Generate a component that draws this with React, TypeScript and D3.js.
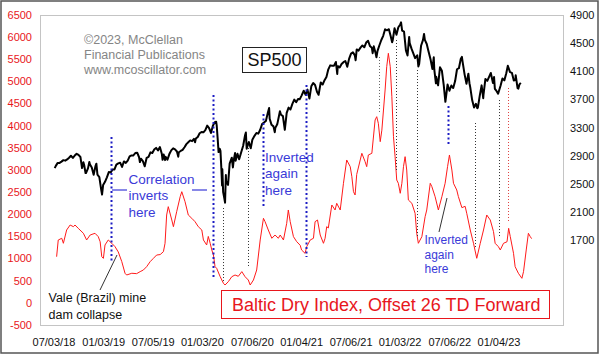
import React from "react";
import * as d3 from "d3";

const leftTicks = [-500, 0, 500, 1000, 1500, 2000, 2500, 3000, 3500, 4000, 4500, 5000, 5500, 6000, 6500];
const rightTicks = [1700, 2100, 2500, 2900, 3300, 3700, 4100, 4500, 4900];
const xTickDates = ["2018-07-03", "2019-01-03", "2019-07-05", "2020-01-03", "2020-07-06", "2021-01-04", "2021-07-06", "2022-01-03", "2022-07-06", "2023-01-04"];
const xTickLabels = ["07/03/18", "01/03/19", "07/05/19", "01/03/20", "07/06/20", "01/04/21", "07/06/21", "01/03/22", "07/06/22", "01/04/23"];

const spx: [string, number][] = [
  ["2018-07-02", 2726], ["2018-07-06", 2759], ["2018-07-13", 2801], ["2018-07-20", 2801], ["2018-07-27", 2819],
  ["2018-08-03", 2840], ["2018-08-10", 2833], ["2018-08-17", 2850], ["2018-08-24", 2874], ["2018-08-31", 2902],
  ["2018-09-07", 2872], ["2018-09-14", 2905], ["2018-09-21", 2930], ["2018-09-28", 2914], ["2018-10-05", 2885],
  ["2018-10-11", 2728], ["2018-10-16", 2809], ["2018-10-19", 2768], ["2018-10-24", 2656], ["2018-10-26", 2658],
  ["2018-11-02", 2723], ["2018-11-07", 2814], ["2018-11-09", 2781], ["2018-11-16", 2736], ["2018-11-23", 2633],
  ["2018-11-30", 2760], ["2018-12-03", 2790], ["2018-12-07", 2633], ["2018-12-14", 2600], ["2018-12-21", 2417],
  ["2018-12-24", 2351], ["2018-12-28", 2486], ["2019-01-04", 2532], ["2019-01-11", 2596], ["2019-01-18", 2671],
  ["2019-01-25", 2665], ["2019-02-01", 2707], ["2019-02-08", 2708], ["2019-02-15", 2776], ["2019-02-22", 2793],
  ["2019-03-01", 2804], ["2019-03-08", 2743], ["2019-03-15", 2822], ["2019-03-22", 2801], ["2019-03-29", 2834],
  ["2019-04-05", 2893], ["2019-04-12", 2907], ["2019-04-18", 2905], ["2019-04-26", 2940], ["2019-05-03", 2946],
  ["2019-05-10", 2881], ["2019-05-13", 2812], ["2019-05-17", 2860], ["2019-05-24", 2826], ["2019-05-31", 2752],
  ["2019-06-07", 2873], ["2019-06-14", 2887], ["2019-06-21", 2950], ["2019-06-28", 2942], ["2019-07-05", 2990],
  ["2019-07-12", 3014], ["2019-07-19", 2977], ["2019-07-26", 3026], ["2019-08-02", 2932], ["2019-08-05", 2844],
  ["2019-08-09", 2919], ["2019-08-14", 2840], ["2019-08-16", 2889], ["2019-08-23", 2847], ["2019-08-30", 2926],
  ["2019-09-06", 2979], ["2019-09-13", 3007], ["2019-09-20", 2992], ["2019-09-27", 2962], ["2019-10-02", 2888],
  ["2019-10-04", 2952], ["2019-10-11", 2970], ["2019-10-18", 2986], ["2019-10-25", 3023], ["2019-11-01", 3067],
  ["2019-11-08", 3093], ["2019-11-15", 3120], ["2019-11-22", 3110], ["2019-11-29", 3141], ["2019-12-03", 3093],
  ["2019-12-06", 3146], ["2019-12-13", 3169], ["2019-12-20", 3221], ["2019-12-27", 3240], ["2020-01-03", 3235],
  ["2020-01-10", 3265], ["2020-01-17", 3330], ["2020-01-24", 3295], ["2020-01-31", 3226], ["2020-02-07", 3328],
  ["2020-02-14", 3380], ["2020-02-19", 3386], ["2020-02-21", 3338], ["2020-02-25", 3128], ["2020-02-28", 2954],
  ["2020-03-03", 3003], ["2020-03-06", 2972], ["2020-03-09", 2747], ["2020-03-12", 2481], ["2020-03-13", 2711],
  ["2020-03-16", 2386], ["2020-03-20", 2305], ["2020-03-23", 2237], ["2020-03-26", 2630], ["2020-03-27", 2541],
  ["2020-04-03", 2489], ["2020-04-09", 2790], ["2020-04-17", 2875], ["2020-04-21", 2737], ["2020-04-24", 2837],
  ["2020-04-29", 2940], ["2020-05-01", 2831], ["2020-05-08", 2930], ["2020-05-14", 2852], ["2020-05-15", 2864],
  ["2020-05-22", 2955], ["2020-05-29", 3044], ["2020-06-05", 3194], ["2020-06-08", 3232], ["2020-06-11", 3002],
  ["2020-06-19", 3098], ["2020-06-26", 3009], ["2020-07-02", 3130], ["2020-07-10", 3185], ["2020-07-17", 3225],
  ["2020-07-24", 3216], ["2020-07-31", 3271], ["2020-08-07", 3351], ["2020-08-14", 3373], ["2020-08-21", 3397],
  ["2020-08-28", 3508], ["2020-09-02", 3580], ["2020-09-04", 3427], ["2020-09-11", 3341], ["2020-09-18", 3319],
  ["2020-09-23", 3237], ["2020-09-25", 3298], ["2020-10-02", 3348], ["2020-10-09", 3477], ["2020-10-12", 3535],
  ["2020-10-16", 3484], ["2020-10-23", 3465], ["2020-10-30", 3270], ["2020-11-06", 3510], ["2020-11-13", 3585],
  ["2020-11-20", 3558], ["2020-11-27", 3638], ["2020-12-04", 3699], ["2020-12-11", 3663], ["2020-12-18", 3709],
  ["2020-12-24", 3703], ["2020-12-31", 3756], ["2021-01-08", 3825], ["2021-01-15", 3768], ["2021-01-22", 3841],
  ["2021-01-29", 3714], ["2021-02-05", 3887], ["2021-02-12", 3934], ["2021-02-19", 3907], ["2021-02-26", 3811],
  ["2021-03-04", 3768], ["2021-03-12", 3943], ["2021-03-19", 3913], ["2021-03-26", 3975], ["2021-04-02", 4020],
  ["2021-04-09", 4129], ["2021-04-16", 4185], ["2021-04-23", 4180], ["2021-04-30", 4181], ["2021-05-07", 4233],
  ["2021-05-12", 4063], ["2021-05-14", 4174], ["2021-05-21", 4156], ["2021-05-28", 4204], ["2021-06-04", 4230],
  ["2021-06-11", 4247], ["2021-06-18", 4166], ["2021-06-25", 4281], ["2021-07-02", 4352], ["2021-07-09", 4370],
  ["2021-07-16", 4327], ["2021-07-19", 4258], ["2021-07-23", 4412], ["2021-07-30", 4395], ["2021-08-06", 4437],
  ["2021-08-13", 4468], ["2021-08-20", 4442], ["2021-08-27", 4509], ["2021-09-03", 4535], ["2021-09-10", 4459],
  ["2021-09-17", 4433], ["2021-09-20", 4358], ["2021-09-24", 4455], ["2021-10-01", 4357], ["2021-10-04", 4300],
  ["2021-10-08", 4391], ["2021-10-15", 4471], ["2021-10-22", 4545], ["2021-10-29", 4605], ["2021-11-05", 4697],
  ["2021-11-12", 4683], ["2021-11-19", 4698], ["2021-11-26", 4595], ["2021-12-01", 4513], ["2021-12-03", 4538],
  ["2021-12-10", 4712], ["2021-12-17", 4620], ["2021-12-24", 4726], ["2021-12-31", 4766], ["2022-01-03", 4796],
  ["2022-01-07", 4677], ["2022-01-14", 4663], ["2022-01-21", 4398], ["2022-01-27", 4326], ["2022-02-02", 4589],
  ["2022-02-04", 4500], ["2022-02-11", 4419], ["2022-02-18", 4349], ["2022-02-24", 4288], ["2022-03-04", 4329],
  ["2022-03-08", 4170], ["2022-03-11", 4204], ["2022-03-18", 4463], ["2022-03-25", 4543], ["2022-03-29", 4631],
  ["2022-04-01", 4546], ["2022-04-08", 4488], ["2022-04-14", 4393], ["2022-04-22", 4272], ["2022-04-29", 4132],
  ["2022-05-04", 4300], ["2022-05-06", 4123], ["2022-05-12", 3930], ["2022-05-13", 4024], ["2022-05-20", 3901],
  ["2022-05-27", 4158], ["2022-06-03", 4109], ["2022-06-10", 3901], ["2022-06-16", 3667], ["2022-06-24", 3912],
  ["2022-07-01", 3825], ["2022-07-08", 3899], ["2022-07-15", 3863], ["2022-07-22", 3962], ["2022-07-29", 4130],
  ["2022-08-05", 4145], ["2022-08-12", 4280], ["2022-08-16", 4305], ["2022-08-19", 4228], ["2022-08-26", 4058],
  ["2022-09-02", 3924], ["2022-09-09", 4067], ["2022-09-13", 3932], ["2022-09-16", 3873], ["2022-09-23", 3693],
  ["2022-09-30", 3586], ["2022-10-07", 3640], ["2022-10-12", 3577], ["2022-10-14", 3583], ["2022-10-21", 3752],
  ["2022-10-28", 3901], ["2022-11-03", 3720], ["2022-11-04", 3771], ["2022-11-11", 3993], ["2022-11-18", 3965],
  ["2022-11-25", 4026], ["2022-12-01", 4077], ["2022-12-09", 3934], ["2022-12-13", 4019], ["2022-12-16", 3852],
  ["2022-12-22", 3822], ["2022-12-28", 3783], ["2023-01-06", 3895], ["2023-01-13", 3999], ["2023-01-20", 3972],
  ["2023-01-27", 4070], ["2023-02-02", 4180], ["2023-02-10", 4090], ["2023-02-17", 4079], ["2023-02-24", 3970],
  ["2023-03-02", 3981], ["2023-03-03", 4045], ["2023-03-10", 3861], ["2023-03-13", 3855], ["2023-03-17", 3916],
  ["2023-03-22", 3937],
];

// Baltic Dry Index, dates already shifted 26 trading days forward
const bdi: [string, number][] = [
  ["2018-07-09", 1042], ["2018-07-15", 1419], ["2018-07-28", 1458], ["2018-08-03", 1345], ["2018-08-15", 1645],
  ["2018-08-28", 1758], ["2018-09-09", 1720], ["2018-09-15", 1758], ["2018-09-27", 1683], ["2018-10-16", 1571],
  ["2018-10-28", 1420], ["2018-11-10", 1532], ["2018-11-28", 1571], ["2018-12-10", 1495], ["2018-12-17", 1380],
  ["2018-12-23", 1042], ["2018-12-29", 1005], ["2019-01-04", 1307], ["2019-01-16", 1420], ["2019-01-29", 1345],
  ["2019-02-10", 1269], ["2019-02-22", 1150], ["2019-03-07", 932], ["2019-03-19", 668], ["2019-03-25", 629],
  ["2019-04-13", 668], ["2019-05-01", 660], ["2019-05-14", 705], ["2019-05-26", 742], ["2019-06-07", 817],
  ["2019-06-20", 930], ["2019-07-02", 1006], ["2019-07-14", 1080], ["2019-07-27", 1090], ["2019-08-08", 1156],
  ["2019-08-14", 1345], ["2019-08-20", 1984], ["2019-08-26", 2172], ["2019-09-08", 1871], ["2019-09-14", 1720],
  ["2019-09-26", 2058], ["2019-10-09", 2397], ["2019-10-15", 2510], ["2019-10-27", 2284], ["2019-11-08", 1984],
  ["2019-11-21", 1909], ["2019-12-03", 1833], ["2019-12-15", 1720], ["2019-12-28", 1645], ["2020-01-03", 1420],
  ["2020-01-15", 1307], ["2020-01-21", 1500], ["2020-01-28", 1345], ["2020-02-03", 1194], ["2020-02-09", 1081],
  ["2020-02-15", 817], ["2020-02-21", 780], ["2020-03-05", 591], ["2020-03-17", 442], ["2020-03-23", 403],
  ["2020-04-04", 478], ["2020-04-17", 591], ["2020-04-29", 629], ["2020-05-11", 600], ["2020-05-24", 705],
  ["2020-06-05", 591], ["2020-06-17", 516], ["2020-06-24", 403], ["2020-07-06", 516], ["2020-07-18", 742],
  ["2020-07-31", 1420], ["2020-08-12", 1909], ["2020-08-18", 1833], ["2020-08-30", 1645], ["2020-09-12", 1458],
  ["2020-09-24", 1532], ["2020-10-06", 1458], ["2020-10-13", 1532], ["2020-10-25", 1420], ["2020-11-06", 1796],
  ["2020-11-12", 2097], ["2020-11-19", 1833], ["2020-12-01", 1495], ["2020-12-13", 1382], ["2020-12-26", 1300],
  ["2020-12-31", 1194], ["2021-01-13", 1119], ["2021-01-19", 1269], ["2021-02-01", 1420], ["2021-02-13", 1458],
  ["2021-02-19", 1833], ["2021-02-28", 1871], ["2021-03-10", 1532], ["2021-03-22", 1345], ["2021-03-28", 1458],
  ["2021-04-03", 1720], ["2021-04-09", 1690], ["2021-04-22", 2210], ["2021-05-04", 2097], ["2021-05-10", 2248],
  ["2021-05-23", 2097], ["2021-06-04", 2700], ["2021-06-16", 3226], ["2021-06-29", 3075], ["2021-07-05", 2849],
  ["2021-07-11", 2510], ["2021-07-17", 2436], ["2021-07-23", 2900], ["2021-08-05", 3226], ["2021-08-11", 3377],
  ["2021-08-23", 3188], ["2021-08-29", 3075], ["2021-09-04", 3339], ["2021-09-17", 3377], ["2021-09-29", 4129],
  ["2021-10-05", 4204], ["2021-10-11", 4054], ["2021-10-18", 3640], ["2021-10-24", 3900], ["2021-11-05", 4807],
  ["2021-11-11", 5333], ["2021-11-17", 5635], ["2021-11-24", 5333], ["2021-11-30", 4655], ["2021-12-06", 3752],
  ["2021-12-12", 3301], ["2021-12-18", 2774], ["2021-12-24", 2700], ["2021-12-31", 2474], ["2022-01-06", 2700],
  ["2022-01-12", 3075], ["2022-01-18", 3301], ["2022-01-24", 2999], ["2022-01-30", 2323], ["2022-02-12", 2248],
  ["2022-02-24", 2022], ["2022-03-02", 1571], ["2022-03-08", 1345], ["2022-03-21", 1495], ["2022-04-02", 1946],
  ["2022-04-08", 2097], ["2022-04-21", 2700], ["2022-04-27", 2624], ["2022-05-09", 2397], ["2022-05-21", 2097],
  ["2022-06-03", 2397], ["2022-06-15", 2700], ["2022-06-24", 3075], ["2022-07-01", 3339], ["2022-07-10", 2999],
  ["2022-07-16", 2700], ["2022-07-28", 2549], ["2022-08-03", 2400], ["2022-08-16", 2150], ["2022-08-28", 2180],
  ["2022-09-03", 2022], ["2022-09-16", 1645], ["2022-09-28", 1345], ["2022-10-10", 1006], ["2022-10-23", 1345],
  ["2022-11-04", 1645], ["2022-11-16", 1984], ["2022-11-29", 1871], ["2022-12-11", 1608], ["2022-12-17", 1345],
  ["2022-12-29", 1269], ["2023-01-05", 1194], ["2023-01-17", 1345], ["2023-01-30", 1380], ["2023-02-05", 1683],
  ["2023-02-11", 1495], ["2023-02-23", 1119], ["2023-03-01", 817], ["2023-03-13", 668], ["2023-03-26", 554],
  ["2023-04-01", 705], ["2023-04-11", 1194], ["2023-04-19", 1571], ["2023-04-26", 1495], ["2023-05-01", 1450],
];

// vertical marker lines: date, top (SP500 scale), bottom (BDI scale), style
const markers: { date: string; spTop: number; bdiBottom: number; kind: string }[] = [
  { date: "2019-01-26", spTop: 3168, bdiBottom: 923, kind: "blue" },
  { date: "2020-02-07", spTop: 3764, bdiBottom: 584, kind: "blue" },
  { date: "2020-08-10", spTop: 3495, bdiBottom: 2142, kind: "blue" },
  { date: "2021-01-16", spTop: 3906, bdiBottom: 1036, kind: "blue" },
  { date: "2022-06-26", spTop: 3608, bdiBottom: 3542, kind: "blue" },
  { date: "2020-03-15", spTop: 2160, bdiBottom: 449, kind: "black" },
  { date: "2020-06-16", spTop: 3055, bdiBottom: 787, kind: "black" },
  { date: "2021-10-13", spTop: 4304, bdiBottom: 4287, kind: "grey" },
  { date: "2021-12-15", spTop: 4545, bdiBottom: 3000, kind: "black" },
  { date: "2022-03-03", spTop: 4119, bdiBottom: 1487, kind: "black" },
  { date: "2022-10-04", spTop: 3367, bdiBottom: 1261, kind: "black" },
  { date: "2022-12-31", spTop: 3693, bdiBottom: 1465, kind: "black" },
  { date: "2023-02-01", spTop: 3864, bdiBottom: 1803, kind: "red" },
];

const FONT = "Arial, 'Liberation Sans', sans-serif";
const RED = "#e8161c";
const BLUE = "#3a3ad8";

export default function App() {
  const parse = d3.utcParse("%Y-%m-%d");
  const x = d3.scaleUtc().domain([parse("2018-07-03")!, parse("2023-01-04")!]).range([55, 500]);
  const yL = d3.scaleLinear().domain([-500, 6500]).range([325, 15]);
  const yR = d3.scaleLinear().domain([500, 4900]).range([325, 15]);

  const spLine = d3.line<[string, number]>().x((d) => x(parse(d[0])!)).y((d) => yR(d[1]));
  const bdiLine = d3.line<[string, number]>().x((d) => x(parse(d[0])!)).y((d) => yL(d[1]));

  const markerStyle = (k: string) => {
    if (k === "blue") return { stroke: "#1c1cc4", width: 2, dash: "2,2.5" };
    if (k === "red") return { stroke: "#e04040", width: 1, dash: "1,2" };
    if (k === "grey") return { stroke: "#666", width: 1, dash: "1,2" };
    return { stroke: "#333", width: 1, dash: "1,2" };
  };

  return (
    <svg width={600} height={355} style={{ position: "absolute", left: 0, top: 0, display: "block" }} fontFamily={FONT}>
      <rect x={0} y={0} width={600} height={355} fill="#fff" />
      <rect x={1} y={1} width={597} height={352} fill="none" stroke="#555" strokeWidth={1.5} />
      <rect x={40.5} y={15.5} width={523} height={310} fill="#fff" stroke="#c4c4c4" strokeWidth={1} />

      {leftTicks.map((t) => (
        <text key={"l" + t} x={32} y={yL(t)} dy="0.35em" textAnchor="end" fontSize={11} fill={RED}>{t}</text>
      ))}
      {rightTicks.map((t) => (
        <text key={"r" + t} x={570} y={yR(t)} dy="0.35em" textAnchor="start" fontSize={11} fill="#111">{t}</text>
      ))}
      {xTickDates.map((d, i) => (
        <text key={d} x={x(parse(d)!) - 1} y={342} dy="0.35em" textAnchor="middle" fontSize={11} fill="#111">{xTickLabels[i]}</text>
      ))}

      <g fill="#858585" fontSize={12.5}>
        <text x={84} y={40} dy="0.35em">©2023, McClellan</text>
        <text x={84} y={55} dy="0.35em">Financial Publications</text>
        <text x={84} y={70} dy="0.35em">www.mcoscillator.com</text>
      </g>

      <rect x={242.5} y={47.5} width={64} height={25} fill="#fff" stroke="#222" strokeWidth={1} />
      <text x={274.5} y={60} dy="0.35em" textAnchor="middle" fontSize={18} fill="#111">SP500</text>

      <path d={bdiLine(bdi) ?? ""} fill="none" stroke="#ff1a1a" strokeWidth={1} />
      <path d={spLine(spx) ?? ""} fill="none" stroke="#000" strokeWidth={2} strokeLinejoin="round" />

      {markers.map((m) => {
        const s = markerStyle(m.kind);
        const xx = Math.round(x(parse(m.date)!)) + 0.5;
        return (
          <line key={m.date} x1={xx} x2={xx} y1={yR(m.spTop)} y2={yL(m.bdiBottom)} stroke={s.stroke} strokeWidth={s.width} strokeDasharray={s.dash} />
        );
      })}

      <line x1={112} x2={127} y1={190} y2={190} stroke={BLUE} strokeWidth={1.2} />
      <line x1={192} x2={207} y1={190} y2={190} stroke={BLUE} strokeWidth={1.2} />
      <g fill={BLUE} fontSize={13.5}>
        <text x={128.5} y={179} dy="0.35em">Correlation</text>
        <text x={128.5} y={195.5} dy="0.35em">inverts</text>
        <text x={128.5} y={212} dy="0.35em">here</text>
        <text x={265} y={157} dy="0.35em">Inverted</text>
        <text x={265} y={173.5} dy="0.35em">again</text>
        <text x={265} y={190} dy="0.35em">here</text>
      </g>
      <g fill={BLUE} fontSize={12}>
        <text x={424.5} y={240} dy="0.35em">Inverted</text>
        <text x={424.5} y={254.5} dy="0.35em">again</text>
        <text x={424.5} y={269} dy="0.35em">here</text>
      </g>
      <line x1={439} y1={232} x2={447} y2={198} stroke="#333" strokeWidth={1} />

      <line x1={100} y1={290} x2={117} y2={255} stroke="#333" strokeWidth={1} />
      <g fill="#111" fontSize={12.5}>
        <text x={48.5} y={298} dy="0.35em">Vale (Brazil) mine</text>
        <text x={48.5} y={315} dy="0.35em">dam collapse</text>
      </g>

      <rect x={221.5} y={290.5} width={328} height={28} fill="#fff" stroke={RED} strokeWidth={1} />
      <text x={232} y={305} dy="0.35em" fontSize={18} fill={RED}>Baltic Dry Index, Offset 26 TD Forward</text>
    </svg>
  );
}
